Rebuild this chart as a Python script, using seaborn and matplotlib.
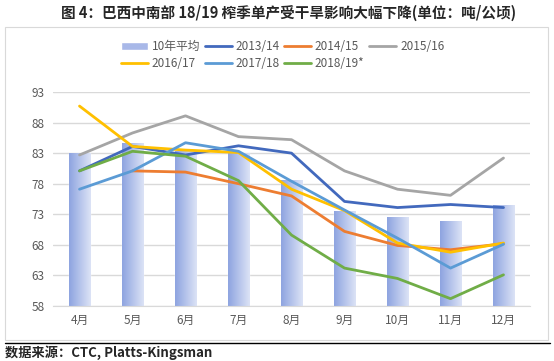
import numpy as np
import pandas as pd
import matplotlib.pyplot as plt
import seaborn as sns
from matplotlib.patches import Patch, Rectangle
from matplotlib.lines import Line2D
from matplotlib.colors import LinearSegmentedColormap

months = ['4月', '5月', '6月', '7月', '8月', '9月', '10月', '11月', '12月']
avg_10y = [83.0, 84.7, 83.3, 83.1, 78.6, 73.6, 72.6, 71.9, 74.5]
s2013 = [80.1, 84.1, 82.7, 84.2, 83.0, 75.1, 74.1, 74.6, 74.1]
s2014 = [np.nan, 80.1, 79.9, 78.0, 76.0, 70.2, 67.9, 67.2, 68.2]
s2015 = [82.7, 86.3, 89.1, 85.7, 85.2, 80.1, 77.1, 76.1, 82.2]
s2016 = [90.7, 84.1, 83.5, 83.1, 77.1, 73.6, 68.3, 66.8, 68.3]
s2017 = [77.1, 80.1, 84.7, 83.3, 78.4, 73.7, 69.1, 64.2, 68.1]
s2018 = [80.1, 83.3, 82.5, 78.5, 69.6, 64.2, 62.5, 59.2, 63.1]

series = {
    '2013/14': s2013,
    '2014/15': s2014,
    '2015/16': s2015,
    '2016/17': s2016,
    '2017/18': s2017,
    '2018/19*': s2018,
}
palette = {
    '2013/14': '#4269BD',
    '2014/15': '#ED7D31',
    '2015/16': '#A5A5A5',
    '2016/17': '#FFC000',
    '2017/18': '#5B9BD5',
    '2018/19*': '#70AD47',
}

rows = []
for name, vals in series.items():
    for i, v in enumerate(vals):
        rows.append({'idx': i, 'value': v, 'season': name})
df_lines = pd.DataFrame(rows).dropna()
df_bar = pd.DataFrame({'month': months, 'value': avg_10y})

sns.set_style('white')
plt.rcParams['font.family'] = ['Noto Sans CJK SC', 'DejaVu Sans']

fig = plt.figure(figsize=(5.54, 3.61), dpi=100)
ax = fig.add_axes([53 / 554, 1 - 306 / 361, 477 / 554, 214 / 361])

sns.barplot(data=df_bar, x='month', y='value', color='#A8B8E8', width=0.4,
            ax=ax, zorder=2)
ax.set_ylim(58, 93)

# horizontal gradient on the bars
grad = np.linspace(0, 1, 64).reshape(1, -1)
cmap = LinearSegmentedColormap.from_list('bg', ['#8EA4E0', '#DCE3F6'])
for p in list(ax.patches):
    x0, y0 = p.get_x(), p.get_y()
    w, h = p.get_width(), p.get_height()
    im = ax.imshow(grad, extent=[x0, x0 + w, 58, y0 + h], cmap=cmap,
                   aspect='auto', zorder=2.1)
    im.set_clip_path(p)

sns.lineplot(data=df_lines, x='idx', y='value', hue='season', palette=palette,
             linewidth=2, ax=ax, zorder=3, legend=False)

ax.set_xlim(-0.5, 8.5)
ax.set_ylim(58, 93)
ax.set_yticks(range(58, 94, 5))
ax.set_xticks(range(len(months)))
ax.set_xticklabels(months)
ax.set_xlabel('')
ax.set_ylabel('')
ax.grid(axis='y', color='#D9D9D9', linewidth=1, zorder=0)
ax.set_axisbelow(True)
for s in ['top', 'right', 'left']:
    ax.spines[s].set_visible(False)
ax.spines['bottom'].set_color('#D9D9D9')
ax.tick_params(axis='both', colors='#595959', labelsize=8.5, length=0, pad=6)

# legend (column-major order so rows read left to right)
bar_h = Patch(facecolor='#A8B8E8', label='10年平均')
lh = {k: Line2D([0], [0], color=c, lw=2, label=k) for k, c in palette.items()}
handles = [bar_h, lh['2016/17'], lh['2013/14'], lh['2017/18'],
           lh['2014/15'], lh['2018/19*'], lh['2015/16']]
fig.legend(handles=handles, ncol=4, loc='center', bbox_to_anchor=(0.51, 1 - 55 / 361),
           frameon=False, fontsize=8.5, labelcolor='#595959', handlelength=2.3,
           handletextpad=0.3, columnspacing=0.4, labelspacing=0.3)

# chart frame
fig.patches.append(Rectangle((5 / 554, 1 - 340 / 361), 543 / 554, 313 / 361,
                             transform=fig.transFigure, fill=False,
                             edgecolor='#D9D9D9', linewidth=0.8))
fig.add_artist(Line2D([5 / 554, 550 / 554], [1 - 343 / 361, 1 - 343 / 361],
                      transform=fig.transFigure, color='black', linewidth=1))

fig.text(0.52, 1 - 13 / 361, '图 4：巴西中南部 18/19 榨季单产受干旱影响大幅下降(单位：吨/公顷)',
         ha='center', va='center', fontsize=10.5, fontweight='bold')
fig.text(5 / 554, 1 - 353 / 361, '数据来源：CTC, Platts-Kingsman',
         ha='left', va='center', fontsize=9.5, fontweight='bold')

fig.savefig('out.png', dpi=100)
